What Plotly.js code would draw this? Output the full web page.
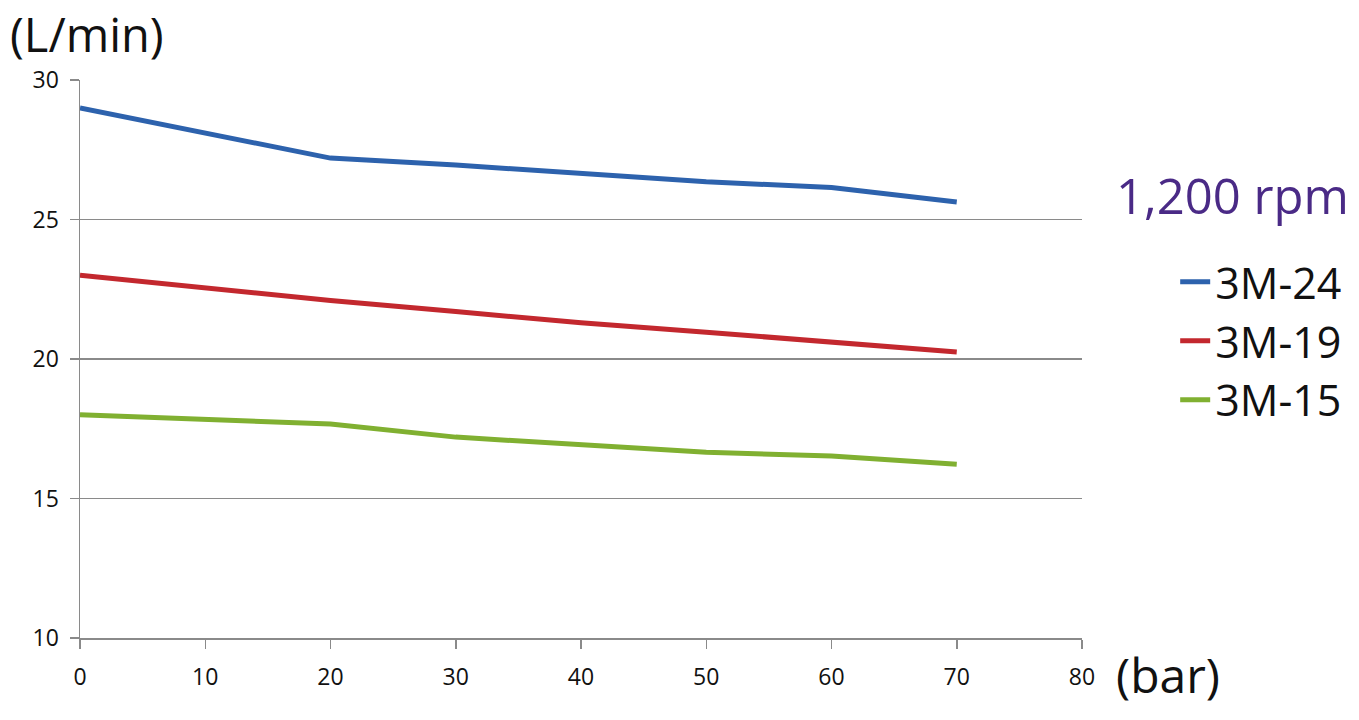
<!DOCTYPE html>
<html>
<head>
<meta charset="utf-8">
<script src="https://cdn.plot.ly/plotly-3.0.1.min.js"></script>
<style>
  html, body { margin: 0; padding: 0; background: #fff; }
  #chart { width: 1359px; height: 720px; }
</style>
</head>
<body>
<div id="chart"></div>
<script>
// Pressure (bar) vs flow (L/min) at 1,200 rpm
const pressure = [0, 10, 20, 30, 40, 50, 60, 70];
const flow3M24 = [29.0, 28.1, 27.2, 26.95, 26.65, 26.35, 26.15, 25.63];
const flow3M19 = [23.0, 22.55, 22.1, 21.7, 21.3, 20.96, 20.62, 20.25];
const flow3M15 = [18.0, 17.83, 17.67, 17.2, 16.92, 16.66, 16.52, 16.23];

const seriesNames = ['3M-24', '3M-19', '3M-15'];
const seriesColors = ['#2d62ad', '#c3282e', '#80b031'];
const seriesValues = [flow3M24, flow3M19, flow3M15];

const xTicks = [0, 10, 20, 30, 40, 50, 60, 70, 80];
const yTicks = [10, 15, 20, 25, 30];

const traces = seriesNames.map((name, i) => ({
    x: pressure,
    y: seriesValues[i],
    type: 'scatter',
    mode: 'lines',
    name: name,
    line: { color: seriesColors[i], width: 5 },
    hoverinfo: 'x+y+name',
}));

const layout = {
    width: 1359,
    height: 720,
    margin: { l: 80, r: 277, t: 80, b: 82 },
    paper_bgcolor: '#ffffff',
    plot_bgcolor: '#ffffff',
    font: { family: 'Open Sans, Noto Sans, sans-serif', color: '#111' },
    xaxis: {
        range: [0, 80],
        tickvals: xTicks,
        ticks: 'outside',
        ticklen: 9,
        tickwidth: 1.5,
        tickcolor: '#8a8a8a',
        showgrid: false,
        zeroline: false,
        showline: true,
        linecolor: '#8a8a8a',
        linewidth: 2,
        ticklabelstandoff: 8,
        tickfont: { size: 23 },
    },
    yaxis: {
        range: [10, 30],
        tickvals: yTicks,
        ticks: 'outside',
        ticklen: 9,
        tickwidth: 1.5,
        tickcolor: '#8a8a8a',
        showgrid: true,
        gridcolor: '#8a8a8a',
        gridwidth: 1.5,
        zeroline: false,
        showline: true,
        linecolor: '#8a8a8a',
        linewidth: 1.5,
        ticklabelstandoff: 6,
        tickfont: { size: 23 },
    },
    showlegend: true,
    legend: {
        x: 1.093,
        y: 0.7,
        xanchor: 'left',
        yanchor: 'top',
        font: { size: 43, color: '#111' },
        bgcolor: 'rgba(0,0,0,0)',
        borderwidth: 0,
    },
    annotations: [
        {
            text: '(L/min)', xref: 'paper', yref: 'paper',
            x: -0.072, y: 1.083, xanchor: 'left', yanchor: 'middle',
            showarrow: false, font: { size: 47, color: '#111' },
        },
        {
            text: '(bar)', xref: 'paper', yref: 'paper',
            x: 1.032, y: -0.066, xanchor: 'left', yanchor: 'middle',
            showarrow: false, font: { size: 48, color: '#111' },
        },
        {
            text: '1,200 rpm', xref: 'paper', yref: 'paper',
            x: 1.032, y: 0.794, xanchor: 'left', yanchor: 'middle',
            showarrow: false, font: { size: 49, color: '#4a2a86' },
        },
    ],
};

Plotly.newPlot('chart', traces, layout, { displayModeBar: false, staticPlot: true });
</script>
</body>
</html>
